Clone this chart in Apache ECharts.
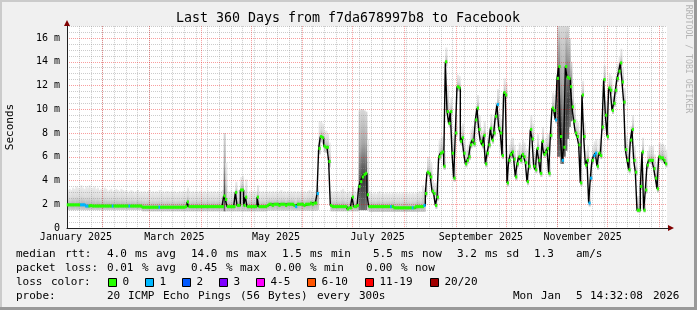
<!DOCTYPE html>
<html><head><meta charset="utf-8">
<script src="https://cdn.jsdelivr.net/npm/echarts@6/dist/echarts.min.js"></script>
<style>html,body{margin:0;padding:0;background:#f0f0f0;overflow:hidden}#c{width:697px;height:310px}</style>
</head><body><div id="c"></div>
<script>
// ---- time frame (360 days, daily consolidated rows) ----
const startDate = Date.UTC(2025, 0, 10, 14, 32, 8);
const DAY = 86400000;
const endDate = startDate + 360 * DAY;

// ---- median RTT per day (ms) ----
const medianRtt = [
1.95,1.95,1.95,1.95,1.95,1.95,1.95,1.95,1.95,1.95,
1.95,1.85,1.85,1.85,1.9,1.85,1.85,1.85,1.85,1.85,
1.85,1.85,1.85,1.85,1.85,1.85,1.85,1.85,1.85,1.85,
1.85,1.85,1.85,1.85,1.85,1.85,1.85,1.85,1.85,1.85,
1.85,1.85,1.85,1.85,1.85,1.75,1.75,1.75,1.75,1.75,
1.75,1.75,1.75,1.75,1.75,1.75,1.75,1.75,1.75,1.75,
1.75,1.75,1.75,1.75,1.75,1.75,1.75,1.75,1.75,1.75,
1.75,1.8,2.2,1.8,1.8,1.8,1.8,1.8,1.8,1.8,
1.8,1.8,1.8,1.8,1.8,1.8,1.8,1.8,1.8,1.8,
1.8,1.8,1.8,1.8,2.7,2.4,1.8,1.8,1.8,1.8,
1.8,3.0,1.9,1.9,3.2,3.2,1.9,2.6,1.8,1.8,
1.8,1.8,1.8,1.8,2.6,1.8,1.8,1.8,1.8,1.8,
1.9,2.0,2.0,1.9,2.0,2.0,2.0,1.9,2.0,2.0,
2.0,1.9,2.0,2.0,2.0,2.0,1.9,1.8,2.0,2.0,
2.0,2.0,1.9,2.0,2.0,2.0,2.1,2.0,2.1,2.1,
2.9,6.7,7.7,7.6,6.9,6.8,6.8,5.6,1.9,1.8,
1.8,1.8,1.8,1.8,1.8,1.8,1.8,1.8,1.6,1.7,
1.7,2.6,1.8,1.8,1.9,3.5,3.9,4.3,4.5,4.6,
2.8,1.8,1.8,1.8,1.8,1.8,1.8,1.8,1.8,1.8,
1.8,1.8,1.8,1.8,1.8,1.8,1.7,1.7,1.7,1.7,
1.7,1.7,1.7,1.7,1.7,1.7,1.7,1.7,1.7,1.8,
1.8,1.8,1.8,1.8,1.9,2.9,4.7,4.6,4.3,3.1,
2.9,1.9,2.6,6.0,6.3,6.4,5.2,14.0,9.8,8.8,
9.8,6.3,4.2,8.0,11.9,11.8,7.3,7.6,6.3,5.4,
5.7,6.0,7.0,7.4,7.1,9.1,10.1,8.3,7.3,7.0,
7.8,5.4,6.3,7.0,8.4,7.4,8.0,9.4,10.4,8.4,
8.0,6.1,11.4,11.2,3.8,5.7,6.2,6.4,5.8,4.3,
5.4,6.0,5.7,6.2,6.0,5.5,3.9,5.2,8.3,7.5,
5.2,4.9,6.7,5.7,4.6,7.3,6.2,6.4,6.7,4.6,
7.8,10.1,9.9,9.1,12.6,13.6,7.7,5.7,6.8,13.6,
12.7,12.6,11.9,10.2,9.0,8.0,7.7,7.0,3.8,11.2,
7.7,5.3,5.7,2.1,4.2,5.7,6.1,6.3,5.2,6.3,
6.1,8.5,12.5,9.5,7.7,11.8,11.6,9.9,10.5,11.6,
12.6,13.2,13.9,12.3,10.6,6.6,5.7,4.9,7.4,8.3,
5.7,4.7,1.5,1.5,3.5,6.4,1.5,3.2,5.3,5.7,
5.7,5.7,5.0,4.2,3.3,6.0,5.9,5.9,5.7,5.4
];

// ---- smoke: lowest and highest ping per day (ms) ----
const smokeLo = [
1.5,1.5,1.5,1.5,1.5,1.5,1.5,1.5,1.5,1.5,
1.5,1.5,1.5,1.5,1.5,1.5,1.5,1.5,1.5,1.5,
1.5,1.5,1.5,1.5,1.5,1.5,1.5,1.5,1.5,1.5,
1.5,1.5,1.5,1.5,1.5,1.5,1.5,1.5,1.5,1.5,
1.5,1.5,1.5,1.5,1.5,1.4,1.4,1.4,1.4,1.4,
1.4,1.4,1.4,1.4,1.4,1.4,1.4,1.4,1.4,1.4,
1.4,1.4,1.4,1.4,1.4,1.4,1.4,1.4,1.4,1.4,
1.4,1.4,1.4,1.4,1.4,1.4,1.4,1.4,1.4,1.4,
1.4,1.4,1.4,1.4,1.4,1.4,1.4,1.4,1.4,1.4,
1.4,1.4,1.4,1.4,1.4,1.4,1.4,1.4,1.4,1.4,
1.4,1.4,1.4,1.4,1.4,1.4,1.4,1.4,1.4,1.4,
1.4,1.4,1.4,1.4,1.4,1.4,1.4,1.4,1.4,1.4,
1.45,1.45,1.45,1.45,1.45,1.45,1.45,1.45,1.45,1.45,
1.45,1.45,1.45,1.45,1.45,1.45,1.45,1.45,1.45,1.45,
1.45,1.45,1.45,1.45,1.45,1.45,1.45,1.45,1.45,1.45,
1.5,6.2,7.2,7.1,6.4,6.3,6.3,5.1,1.4,1.4,
1.4,1.4,1.4,1.4,1.4,1.4,1.4,1.4,1.4,1.4,
1.4,1.4,1.4,1.4,1.4,1.5,1.5,1.5,1.5,1.5,
1.5,1.35,1.35,1.35,1.35,1.35,1.35,1.35,1.35,1.35,
1.35,1.35,1.35,1.35,1.35,1.35,1.35,1.35,1.35,1.35,
1.35,1.35,1.35,1.35,1.35,1.35,1.35,1.35,1.35,1.35,
1.35,1.35,1.35,1.35,1.35,2.6,4.4,4.3,4.0,2.8,
2.6,1.6,2.3,5.7,6.0,6.1,4.9,13.6,9.4,8.5,
9.5,6.0,3.9,7.7,11.5,11.5,7.0,7.3,6.0,5.1,
5.4,5.7,6.7,7.1,6.8,8.8,9.8,8.0,7.0,6.7,
7.5,5.1,6.0,6.7,8.1,7.1,7.7,9.1,10.1,8.1,
7.7,5.8,11.1,10.9,3.5,5.4,5.9,6.1,5.5,4.0,
5.1,5.7,5.4,5.9,5.7,5.2,3.6,4.9,8.0,7.2,
4.9,4.6,6.4,5.4,4.3,7.0,5.9,6.1,6.4,4.3,
7.5,9.8,9.6,8.8,6.0,6.0,5.4,5.4,6.0,6.5,
7.5,8.5,9.0,9.9,8.7,7.7,7.4,6.7,3.5,10.9,
7.4,5.0,5.4,1.8,3.9,5.4,5.8,6.0,4.9,6.0,
5.8,8.2,12.2,9.2,7.4,11.5,11.3,9.6,10.2,11.3,
12.3,12.9,13.6,12.0,10.3,6.3,5.4,4.6,7.1,8.0,
5.4,4.4,1.3,1.3,3.2,6.1,1.3,2.9,5.0,5.4,
5.4,5.4,4.7,3.9,3.0,5.7,5.6,5.6,5.4,5.1
];
const smokeHi = [
3.2,3.3,3.2,3.4,3.3,3.5,3.4,3.3,3.6,3.4,
3.3,3.5,3.4,3.6,3.3,3.4,3.5,3.3,3.4,3.2,
3.3,3.2,3.4,3.3,3.1,3.2,3.3,3.1,3.2,3.3,
3.2,3.1,3.3,3.2,3.1,3.2,3.0,3.1,3.2,3.1,
3.0,3.1,3.2,3.0,3.1,3.0,3.1,3.0,3.1,3.2,
3.0,3.1,3.0,3.1,3.0,3.2,3.0,3.1,3.0,3.1,
3.1,3.0,3.1,3.0,3.1,3.0,3.0,3.1,3.0,3.1,
3.0,3.1,3.4,3.1,3.0,3.1,3.0,3.1,3.0,3.1,
3.1,3.0,3.1,3.0,3.1,3.0,3.1,3.0,3.1,3.0,
3.1,3.0,3.1,3.2,8.0,5.5,3.1,3.0,3.1,3.0,
3.1,3.9,3.2,3.1,4.3,4.4,3.1,4.1,3.0,3.1,
3.0,3.1,3.0,3.1,3.6,3.1,3.0,3.1,3.0,3.1,
3.0,3.1,3.0,3.1,3.0,3.1,3.0,3.1,3.2,3.0,
3.1,3.0,3.1,3.0,3.1,3.0,3.1,3.0,3.1,3.0,
3.1,3.0,3.1,3.0,3.1,3.2,3.1,3.0,3.1,3.2,
3.6,9.0,9.0,8.8,8.2,8.2,8.0,7.2,3.1,3.0,
3.1,3.0,3.1,3.0,3.2,3.3,3.1,3.0,3.0,3.1,
3.0,3.5,3.1,3.0,3.1,9.9,10.0,10.0,9.9,9.8,
7.5,3.1,3.0,2.9,3.0,2.9,3.0,3.1,2.9,3.0,
2.9,3.0,2.9,3.0,2.9,3.0,2.9,3.0,2.9,3.0,
2.9,3.0,2.9,3.0,2.9,3.0,2.9,3.0,2.9,3.0,
3.0,3.1,3.0,3.6,3.4,4.2,6.0,5.8,5.5,4.0,
3.8,2.8,3.6,7.4,7.6,7.7,6.5,15.2,12.0,10.5,
11.0,7.8,5.5,9.5,12.9,12.8,8.6,8.8,7.6,6.6,
6.9,7.3,8.3,8.6,8.3,10.3,11.2,9.5,8.5,8.2,
9.0,6.6,7.4,8.2,9.6,8.6,9.2,10.6,11.7,9.6,
9.2,7.3,12.6,12.3,5.0,7.0,7.4,7.6,7.0,5.5,
6.6,7.2,6.9,7.4,7.2,6.7,5.1,6.4,9.5,8.8,
6.4,6.1,7.9,6.9,5.8,8.5,7.4,7.6,7.9,5.8,
9.0,11.4,11.2,11.0,17.0,17.0,17.0,17.0,17.0,17.0,
17.0,16.0,14.0,12.2,10.5,9.2,8.9,8.2,5.0,12.4,
8.9,6.5,6.9,3.3,5.4,6.9,7.3,7.5,6.4,7.5,
7.3,9.7,13.7,10.7,8.9,13.0,12.8,11.1,11.7,12.8,
13.8,14.4,15.1,13.5,11.8,7.8,6.9,6.1,8.6,9.5,
6.9,5.9,2.7,2.7,4.7,7.6,2.7,4.4,6.5,6.9,
6.9,6.9,6.2,5.4,4.5,7.2,7.1,7.1,6.9,6.6
];
// days where the ping spread is dense (dark smoke)
const denseSmokeDays = [94,175,176,177,178,179,294,295,296,297,298,299,300,301,302];
// days on which 1 of 20 pings was lost (all others: 0 lost)
const lossOneDays = [8,9,10,11,12,27,37,55,137,150,194,207,214,258,293,297,313,314,316,317];

// ---- axes ----
const xTickLabels = ['January 2025','March 2025','May 2025','July 2025','September 2025','November 2025'];
const xTickLabelDays = [[2025,0,16],[2025,2,16],[2025,4,16],[2025,6,16],[2025,8,16],[2025,10,16]];
const monthLineDays = [[2025,1,1],[2025,2,1],[2025,3,1],[2025,4,1],[2025,5,1],[2025,6,1],[2025,7,1],[2025,8,1],[2025,9,1],[2025,10,1],[2025,11,1],[2026,0,1]];
const firstWeekLine = [2025,0,18];
const yTickValues = [0,2,4,6,8,10,12,14,16];
const yMinorValues = [0.5,1,1.5,2.5,3,3.5,4.5,5,5.5,6.5,7,7.5,8.5,9,9.5,10.5,11,11.5,12.5,13,13.5,14.5,15,15.5,16.5,17];

// ---- texts ----
const titleText = 'Last 360 Days from f7da678997b8 to Facebook';
const yAxisTitle = 'Seconds';
const watermark = 'RRDTOOL / TOBI OETIKER';
const legendLine1 = 'median rtt:  4.0 ms avg  14.0 ms max  1.5 ms min   5.5 ms now  3.2 ms sd  1.3   am/s';
const legendLine2 = 'packet loss: 0.01 % avg  0.45 % max  0.00 % min   0.00 % now';
const legendLine3 = 'loss color:';
const legendLine4 = 'probe:       20 ICMP Echo Pings (56 Bytes) every 300s';
const stampText = 'Mon Jan  5 14:32:08 2026';
const lossLabels = ['0','1','2','3','4-5','6-10','11-19','20/20'];
const lossColors = ['#26ff00','#00b8ff','#0059ff','#7e00ff','#ff00ff','#ff5500','#ff0000','#a10000'];

// ---- build ----
const u = a => Date.UTC(a[0], a[1], a[2]);
const labelVals = xTickLabelDays.map(u);
const monthVals = monthLineDays.map(u);
const weekVals = [];
for (let t = u(firstWeekLine); t < endDate; t += 7 * DAY) weekVals.push(t);

const denseSet = new Set(denseSmokeDays);
const smokeData = medianRtt.map((m, i) => [startDate + i * DAY, smokeLo[i], smokeHi[i], m, denseSet.has(i) ? 1 : 0]);
const medianLine = medianRtt.map((m, i) => [startDate + i * DAY, m]);
medianLine.push([endDate, medianRtt[medianRtt.length - 1]]);
const lossSet = new Set(lossOneDays);
const markData = medianRtt.map((m, i) => [startDate + i * DAY, m, lossSet.has(i) ? 1 : 0]);

const MONO = '"DejaVu Sans Mono", monospace';
const chart = echarts.init(document.getElementById('c'), null, {renderer: 'canvas'});

const gfx = [];
gfx.push({type:'rect', shape:{x:0,y:0,width:697,height:2}, style:{fill:'#cbcbcb'}, silent:true});
gfx.push({type:'rect', shape:{x:0,y:0,width:2,height:310}, style:{fill:'#cbcbcb'}, silent:true});
gfx.push({type:'rect', shape:{x:694,y:0,width:3,height:310}, style:{fill:'#999999'}, silent:true});
gfx.push({type:'rect', shape:{x:0,y:307,width:697,height:3}, style:{fill:'#999999'}, silent:true});
gfx.push({type:'text', x:348, y:19, silent:true, style:{text:titleText, font:'13.3px '+MONO, fill:'#000', textAlign:'center', textVerticalAlign:'middle'}});
gfx.push({type:'text', x:10.5, y:127, rotation:Math.PI/2, silent:true, style:{text:yAxisTitle, font:'11px '+MONO, fill:'#000', textAlign:'center', textVerticalAlign:'middle'}});
gfx.push({type:'text', x:688.5, y:59, rotation:-Math.PI/2, silent:true, style:{text:watermark, font:'8.2px '+MONO, fill:'#b4b4b4', textAlign:'center', textVerticalAlign:'middle'}});
gfx.push({type:'polygon', shape:{points:[[668,225],[668,231],[674,228]]}, style:{fill:'#800000'}, silent:true, z:10});
gfx.push({type:'polygon', shape:{points:[[64,26],[70,26],[67,20]]}, style:{fill:'#800000'}, silent:true, z:10});
gfx.push({type:'line', shape:{x1:667,y1:228.5,x2:669,y2:228.5}, style:{stroke:'#202020',lineWidth:1}, silent:true, z:10});

function placeWords(line, y, x0) {
  const re = /\S+/g; let m;
  while ((m = re.exec(line))) {
    gfx.push({type:'text', x:x0 + 7 * m.index, y:y, silent:true,
      style:{text:m[0], font:'11px '+MONO, fill:'#000', textVerticalAlign:'middle'}});
  }
}
placeWords(legendLine1, 254, 16);
placeWords(legendLine2, 268, 16);
placeWords(legendLine3, 282, 16);
placeWords(legendLine4, 296, 16);
placeWords(stampText, 296, 16 + 7 * 71);
let bx = 108.5;
lossLabels.forEach((lab, i) => {
  gfx.push({type:'rect', shape:{x:bx, y:278.5, width:8, height:8}, style:{fill:lossColors[i], stroke:'#000', lineWidth:1}, silent:true});
  gfx.push({type:'text', x:bx + 14, y:282, silent:true, style:{text:lab, font:'11px '+MONO, fill:'#000', textVerticalAlign:'middle'}});
  bx += 30 + 7 * lab.length;
});

const option = {
  animation: false,
  backgroundColor: '#f0f0f0',
  grid: {left:67, right:30, top:26.125, bottom:82, show:true, backgroundColor:'#ffffff', borderWidth:0, containLabel:false},
  xAxis: [
    {type:'value', min:startDate, max:endDate, z:3,
      axisLine:{show:true, lineStyle:{color:'#202020', width:1}},
      axisTick:{show:false, customValues:monthVals},
      axisLabel:{customValues:labelVals, margin:4, fontSize:10, fontFamily:MONO, color:'#000',
        formatter: v => { const k = labelVals.indexOf(v); return k >= 0 ? xTickLabels[k] : ''; }},
      splitLine:{show:true, lineStyle:{color:'rgba(240,0,0,0.38)', width:1, type:[1,1]}}},
    {type:'value', min:startDate, max:endDate, z:2,
      axisLine:{show:false}, axisTick:{show:false, customValues:weekVals}, axisLabel:{show:false},
      splitLine:{show:true, lineStyle:{color:'rgba(143,143,143,0.46)', width:1, type:[1,1]}}}
  ],
  yAxis: [
    {type:'value', min:0, max:17, position:'left', z:3,
      axisLine:{show:true, lineStyle:{color:'#202020', width:1}},
      axisTick:{show:false, customValues:yTickValues},
      axisLabel:{customValues:yTickValues, margin:7, fontSize:10, fontFamily:MONO, color:'#000',
        formatter: v => v === 0 ? '0' : v + ' m'},
      splitLine:{show:true, lineStyle:{color:'rgba(240,0,0,0.38)', width:1, type:[1,1]}}},
    {type:'value', min:0, max:17, position:'left', z:2,
      axisLine:{show:false}, axisTick:{show:false, customValues:yMinorValues}, axisLabel:{show:false},
      splitLine:{show:true, lineStyle:{color:'rgba(143,143,143,0.46)', width:1, type:[1,1]}}}
  ],
  series: [
    {type:'custom', name:'smoke', xAxisIndex:0, yAxisIndex:0, z:1, silent:true, data:smokeData,
      encode:{x:0, y:[1,2]},
      renderItem: function (params, api) {
        const t = api.value(0), lo = api.value(1), hi = api.value(2), med = api.value(3), dense = api.value(4);
        const p1 = api.coord([t, hi]);
        const p2 = api.coord([t + DAY, lo]);
        let m = (hi - med) / (hi - lo);
        m = Math.min(1, Math.max(0, m));
        const stops = dense ? [
          {offset:0, color:'#d8d8d8'},
          {offset:Math.min(0.45, m * 0.5), color:'#a8a8a8'},
          {offset:Math.max(0.7, m), color:'#3c3c3c'},
          {offset:1, color:'#707070'}
        ] : [
          {offset:0, color:'#ebebeb'},
          {offset:m * 0.55, color:'#dadada'},
          {offset:m, color:'#b0b0b0'},
          {offset:1, color:'#d0d0d0'}
        ];
        const grad = new echarts.graphic.LinearGradient(0, 0, 0, 1, stops);
        return {type:'rect', shape:{x:p1[0], y:p1[1], width:p2[0] - p1[0] + 0.4, height:p2[1] - p1[1]}, style:{fill:grad}};
      }},
    {type:'line', name:'median', xAxisIndex:0, yAxisIndex:0, z:4, data:medianLine, step:'end',
      showSymbol:false, symbol:'none', silent:true, lineStyle:{color:'#000', width:1.4}},
    {type:'custom', name:'loss', xAxisIndex:0, yAxisIndex:0, z:5, silent:true, data:markData,
      encode:{x:0, y:1},
      renderItem: function (params, api) {
        const t = api.value(0), v = api.value(1), l = api.value(2);
        const a = api.coord([t + DAY * 0.5, v]);
        return {type:'rect', shape:{x:a[0] - 1.1, y:a[1] - 1.5, width:2.2, height:3},
          style:{fill: l ? lossColors[1] : lossColors[0]}};
      }}
  ],
  graphic: gfx
};
chart.setOption(option);
</script>
</body></html>
